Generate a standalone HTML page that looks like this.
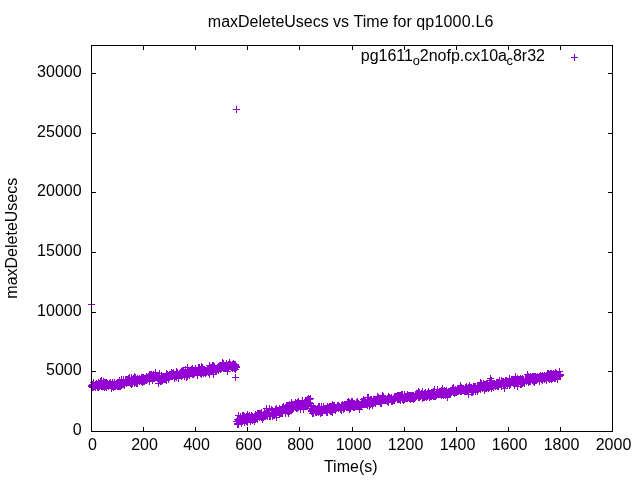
<!DOCTYPE html>
<html><head><meta charset="utf-8"><title>maxDeleteUsecs vs Time for qp1000.L6</title>
<style>
html,body{margin:0;padding:0;background:#fff;}
svg{display:block;}
text{font-family:"Liberation Sans",Arial,sans-serif;font-size:16px;fill:#000;}
</style></head><body>
<svg width="640" height="480" viewBox="0 0 640 480">
<rect width="640" height="480" fill="#fff"/>
<text y="26.7"><tspan x="207.8">maxDeleteUsecs </tspan><tspan x="333">vs </tspan><tspan x="353.6">Time </tspan><tspan x="393.1">for </tspan><tspan x="416.2" letter-spacing="0.2">qp1000.L6</tspan></text>
<text x="350.75" y="471.8" text-anchor="middle">Time(s)</text>
<text transform="translate(16.9,238.2) rotate(-90)" text-anchor="middle">maxDeleteUsecs</text>
<text x="92.5" y="450.15" text-anchor="middle">0</text><text x="144.5" y="450.15" text-anchor="middle">200</text><text x="196.5" y="450.15" text-anchor="middle">400</text><text x="248.5" y="450.15" text-anchor="middle">600</text><text x="300.5" y="450.15" text-anchor="middle">800</text><text x="353.5" y="450.15" text-anchor="middle">1000</text><text x="405.5" y="450.15" text-anchor="middle">1200</text><text x="457.5" y="450.15" text-anchor="middle">1400</text><text x="509.5" y="450.15" text-anchor="middle">1600</text><text x="561.5" y="450.15" text-anchor="middle">1800</text><text x="613.5" y="450.15" text-anchor="middle">2000</text>
<text x="81.6" y="435.25" text-anchor="end">0</text><text x="81.6" y="375.25" text-anchor="end">5000</text><text x="81.6" y="316.25" text-anchor="end">10000</text><text x="81.6" y="256.25" text-anchor="end">15000</text><text x="81.6" y="196.25" text-anchor="end">20000</text><text x="81.6" y="137.25" text-anchor="end">25000</text><text x="81.6" y="77.25" text-anchor="end">30000</text>
<text y="61"><tspan x="360.75">pg1611</tspan><tspan x="412.7" dy="3.8" font-size="12.8px">o</tspan><tspan x="419.75" dy="-3.8">2nofp.cx10a</tspan><tspan x="506.58" dy="3.8" font-size="12.8px">c</tspan><tspan x="512.98" dy="-3.8">8r32</tspan></text>
<path d="M88 304.5h7M91.5 301v7M88 385.5h7M91.5 382v7M88 386.5h7M91.5 383v7M89 384.5h7M92.5 381v7M89 385.5h7M92.5 382v7M89 386.5h7M92.5 383v7M89 387.5h7M92.5 384v7M90 382.5h7M93.5 379v7M90 387.5h7M93.5 384v7M91 385.5h7M94.5 382v7M91 386.5h7M94.5 383v7M92 384.5h7M95.5 381v7M92 385.5h7M95.5 382v7M92 386.5h7M95.5 383v7M92 387.5h7M95.5 384v7M93 383.5h7M96.5 380v7M93 384.5h7M96.5 381v7M93 385.5h7M96.5 382v7M94 385.5h7M97.5 382v7M94 387.5h7M97.5 384v7M95 382.5h7M98.5 379v7M95 383.5h7M98.5 380v7M95 386.5h7M98.5 383v7M95 387.5h7M98.5 384v7M96 383.5h7M99.5 380v7M96 384.5h7M99.5 381v7M96 385.5h7M99.5 382v7M96 386.5h7M99.5 383v7M97 381.5h7M100.5 378v7M97 382.5h7M100.5 379v7M97 384.5h7M100.5 381v7M97 385.5h7M100.5 382v7M98 380.5h7M101.5 377v7M98 382.5h7M101.5 379v7M98 385.5h7M101.5 382v7M98 386.5h7M101.5 383v7M99 385.5h7M102.5 382v7M99 386.5h7M102.5 383v7M100 381.5h7M103.5 378v7M100 385.5h7M103.5 382v7M100 386.5h7M103.5 383v7M101 382.5h7M104.5 379v7M101 385.5h7M104.5 382v7M101 387.5h7M104.5 384v7M102 382.5h7M105.5 379v7M102 383.5h7M105.5 380v7M102 386.5h7M105.5 383v7M103 382.5h7M106.5 379v7M103 384.5h7M106.5 381v7M103 387.5h7M106.5 384v7M104 383.5h7M107.5 380v7M104 384.5h7M107.5 381v7M104 385.5h7M107.5 382v7M105 384.5h7M108.5 381v7M105 385.5h7M108.5 382v7M105 386.5h7M108.5 383v7M106 383.5h7M109.5 380v7M106 384.5h7M109.5 381v7M106 385.5h7M109.5 382v7M107 382.5h7M110.5 379v7M107 383.5h7M110.5 380v7M107 385.5h7M110.5 382v7M108 384.5h7M111.5 381v7M108 385.5h7M111.5 382v7M108 388.5h7M111.5 385v7M109 382.5h7M112.5 379v7M109 384.5h7M112.5 381v7M109 386.5h7M112.5 383v7M110 384.5h7M113.5 381v7M110 385.5h7M113.5 382v7M110 386.5h7M113.5 383v7M110 387.5h7M113.5 384v7M111 382.5h7M114.5 379v7M111 385.5h7M114.5 382v7M111 386.5h7M114.5 383v7M112 384.5h7M115.5 381v7M112 386.5h7M115.5 383v7M113 384.5h7M116.5 381v7M113 385.5h7M116.5 382v7M114 382.5h7M117.5 379v7M114 385.5h7M117.5 382v7M114 386.5h7M117.5 383v7M115 382.5h7M118.5 379v7M115 384.5h7M118.5 381v7M115 386.5h7M118.5 383v7M116 380.5h7M119.5 377v7M116 384.5h7M119.5 381v7M116 386.5h7M119.5 383v7M117 382.5h7M120.5 379v7M117 385.5h7M120.5 382v7M117 386.5h7M120.5 383v7M118 379.5h7M121.5 376v7M118 382.5h7M121.5 379v7M118 384.5h7M121.5 381v7M118 385.5h7M121.5 382v7M119 382.5h7M122.5 379v7M119 383.5h7M122.5 380v7M119 384.5h7M122.5 381v7M120 379.5h7M123.5 376v7M120 381.5h7M123.5 378v7M120 384.5h7M123.5 381v7M121 382.5h7M124.5 379v7M121 384.5h7M124.5 381v7M121 385.5h7M124.5 382v7M122 379.5h7M125.5 376v7M122 380.5h7M125.5 377v7M122 381.5h7M125.5 378v7M122 382.5h7M125.5 379v7M123 379.5h7M126.5 376v7M123 381.5h7M126.5 378v7M123 382.5h7M126.5 379v7M123 383.5h7M126.5 380v7M124 379.5h7M127.5 376v7M124 380.5h7M127.5 377v7M125 378.5h7M128.5 375v7M125 380.5h7M128.5 377v7M125 382.5h7M128.5 379v7M126 377.5h7M129.5 374v7M126 379.5h7M129.5 376v7M126 382.5h7M129.5 379v7M127 382.5h7M130.5 379v7M127 383.5h7M130.5 380v7M128 377.5h7M131.5 374v7M128 379.5h7M131.5 376v7M128 382.5h7M131.5 379v7M128 384.5h7M131.5 381v7M129 381.5h7M132.5 378v7M129 382.5h7M132.5 379v7M129 383.5h7M132.5 380v7M130 378.5h7M133.5 375v7M130 379.5h7M133.5 376v7M130 380.5h7M133.5 377v7M131 376.5h7M134.5 373v7M131 381.5h7M134.5 378v7M131 383.5h7M134.5 380v7M132 377.5h7M135.5 374v7M132 381.5h7M135.5 378v7M132 382.5h7M135.5 379v7M133 380.5h7M136.5 377v7M133 383.5h7M136.5 380v7M134 378.5h7M137.5 375v7M134 381.5h7M137.5 378v7M134 382.5h7M137.5 379v7M134 383.5h7M137.5 380v7M135 379.5h7M138.5 376v7M135 380.5h7M138.5 377v7M136 378.5h7M139.5 375v7M136 379.5h7M139.5 376v7M136 380.5h7M139.5 377v7M136 381.5h7M139.5 378v7M137 379.5h7M140.5 376v7M137 380.5h7M140.5 377v7M138 377.5h7M141.5 374v7M138 380.5h7M141.5 377v7M138 381.5h7M141.5 378v7M139 377.5h7M142.5 374v7M139 380.5h7M142.5 377v7M139 382.5h7M142.5 379v7M140 377.5h7M143.5 374v7M140 380.5h7M143.5 377v7M140 381.5h7M143.5 378v7M141 378.5h7M144.5 375v7M141 380.5h7M144.5 377v7M141 381.5h7M144.5 378v7M142 378.5h7M145.5 375v7M142 379.5h7M145.5 376v7M142 380.5h7M145.5 377v7M143 376.5h7M146.5 373v7M143 377.5h7M146.5 374v7M143 378.5h7M146.5 375v7M143 380.5h7M146.5 377v7M144 378.5h7M147.5 375v7M144 379.5h7M147.5 376v7M145 376.5h7M148.5 373v7M145 377.5h7M148.5 374v7M145 378.5h7M148.5 375v7M146 374.5h7M149.5 371v7M146 378.5h7M149.5 375v7M146 379.5h7M149.5 376v7M146 381.5h7M149.5 378v7M147 374.5h7M150.5 371v7M147 377.5h7M150.5 374v7M147 378.5h7M150.5 375v7M148 374.5h7M151.5 371v7M148 375.5h7M151.5 372v7M148 377.5h7M151.5 374v7M149 375.5h7M152.5 372v7M149 378.5h7M152.5 375v7M149 379.5h7M152.5 376v7M149 380.5h7M152.5 377v7M150 374.5h7M153.5 371v7M150 378.5h7M153.5 375v7M151 376.5h7M154.5 373v7M151 377.5h7M154.5 374v7M151 378.5h7M154.5 375v7M152 372.5h7M155.5 369v7M152 374.5h7M155.5 371v7M152 377.5h7M155.5 374v7M153 375.5h7M156.5 372v7M153 376.5h7M156.5 373v7M153 377.5h7M156.5 374v7M154 376.5h7M157.5 373v7M154 377.5h7M157.5 374v7M154 378.5h7M157.5 375v7M155 376.5h7M158.5 373v7M155 377.5h7M158.5 374v7M155 383.5h7M158.5 380v7M156 373.5h7M159.5 370v7M156 378.5h7M159.5 375v7M156 379.5h7M159.5 376v7M157 378.5h7M160.5 375v7M157 379.5h7M160.5 376v7M157 381.5h7M160.5 378v7M158 375.5h7M161.5 372v7M158 377.5h7M161.5 374v7M158 379.5h7M161.5 376v7M158 381.5h7M161.5 378v7M159 377.5h7M162.5 374v7M159 378.5h7M162.5 375v7M159 380.5h7M162.5 377v7M160 376.5h7M163.5 373v7M160 377.5h7M163.5 374v7M160 379.5h7M163.5 376v7M161 376.5h7M164.5 373v7M161 378.5h7M164.5 375v7M161 379.5h7M164.5 376v7M162 377.5h7M165.5 374v7M162 378.5h7M165.5 375v7M162 379.5h7M165.5 376v7M163 373.5h7M166.5 370v7M163 374.5h7M166.5 371v7M163 380.5h7M166.5 377v7M164 374.5h7M167.5 371v7M164 376.5h7M167.5 373v7M165 375.5h7M168.5 372v7M165 377.5h7M168.5 374v7M165 379.5h7M168.5 376v7M166 374.5h7M169.5 371v7M166 375.5h7M169.5 372v7M166 376.5h7M169.5 373v7M167 374.5h7M170.5 371v7M167 375.5h7M170.5 372v7M167 376.5h7M170.5 373v7M168 372.5h7M171.5 369v7M168 373.5h7M171.5 370v7M168 375.5h7M171.5 372v7M168 376.5h7M171.5 373v7M169 373.5h7M172.5 370v7M169 376.5h7M172.5 373v7M170 372.5h7M173.5 369v7M170 374.5h7M173.5 371v7M170 375.5h7M173.5 372v7M171 374.5h7M174.5 371v7M171 376.5h7M174.5 373v7M171 377.5h7M174.5 374v7M171 378.5h7M174.5 375v7M172 374.5h7M175.5 371v7M172 375.5h7M175.5 372v7M172 376.5h7M175.5 373v7M173 371.5h7M176.5 368v7M173 375.5h7M176.5 372v7M173 377.5h7M176.5 374v7M174 372.5h7M177.5 369v7M174 373.5h7M177.5 370v7M174 374.5h7M177.5 371v7M174 375.5h7M177.5 372v7M175 375.5h7M178.5 372v7M175 378.5h7M178.5 375v7M176 373.5h7M179.5 370v7M176 374.5h7M179.5 371v7M176 375.5h7M179.5 372v7M177 372.5h7M180.5 369v7M177 373.5h7M180.5 370v7M177 375.5h7M180.5 372v7M178 371.5h7M181.5 368v7M178 373.5h7M181.5 370v7M178 376.5h7M181.5 373v7M179 370.5h7M182.5 367v7M179 371.5h7M182.5 368v7M179 372.5h7M182.5 369v7M179 375.5h7M182.5 372v7M180 370.5h7M183.5 367v7M180 373.5h7M183.5 370v7M180 374.5h7M183.5 371v7M181 372.5h7M184.5 369v7M181 373.5h7M184.5 370v7M181 376.5h7M184.5 373v7M182 369.5h7M185.5 366v7M182 370.5h7M185.5 367v7M182 373.5h7M185.5 370v7M182 374.5h7M185.5 371v7M183 372.5h7M186.5 369v7M183 373.5h7M186.5 370v7M183 374.5h7M186.5 371v7M183 377.5h7M186.5 374v7M184 367.5h7M187.5 364v7M184 371.5h7M187.5 368v7M184 374.5h7M187.5 371v7M184 376.5h7M187.5 373v7M185 371.5h7M188.5 368v7M185 372.5h7M188.5 369v7M185 373.5h7M188.5 370v7M186 370.5h7M189.5 367v7M186 372.5h7M189.5 369v7M186 374.5h7M189.5 371v7M186 375.5h7M189.5 372v7M187 372.5h7M190.5 369v7M187 373.5h7M190.5 370v7M188 369.5h7M191.5 366v7M188 372.5h7M191.5 369v7M188 373.5h7M191.5 370v7M189 368.5h7M192.5 365v7M189 371.5h7M192.5 368v7M189 372.5h7M192.5 369v7M189 374.5h7M192.5 371v7M190 370.5h7M193.5 367v7M190 371.5h7M193.5 368v7M190 373.5h7M193.5 370v7M190 374.5h7M193.5 371v7M191 370.5h7M194.5 367v7M191 372.5h7M194.5 369v7M191 373.5h7M194.5 370v7M192 368.5h7M195.5 365v7M192 371.5h7M195.5 368v7M192 372.5h7M195.5 369v7M193 370.5h7M196.5 367v7M193 372.5h7M196.5 369v7M194 371.5h7M197.5 368v7M194 373.5h7M197.5 370v7M194 374.5h7M197.5 371v7M194 375.5h7M197.5 372v7M195 367.5h7M198.5 364v7M195 371.5h7M198.5 368v7M195 372.5h7M198.5 369v7M196 367.5h7M199.5 364v7M196 371.5h7M199.5 368v7M196 372.5h7M199.5 369v7M197 369.5h7M200.5 366v7M197 370.5h7M200.5 367v7M197 373.5h7M200.5 370v7M198 366.5h7M201.5 363v7M198 371.5h7M201.5 368v7M198 373.5h7M201.5 370v7M198 374.5h7M201.5 371v7M199 367.5h7M202.5 364v7M199 368.5h7M202.5 365v7M199 371.5h7M202.5 368v7M199 372.5h7M202.5 369v7M200 370.5h7M203.5 367v7M200 371.5h7M203.5 368v7M200 373.5h7M203.5 370v7M201 369.5h7M204.5 366v7M201 370.5h7M204.5 367v7M201 371.5h7M204.5 368v7M201 372.5h7M204.5 369v7M202 370.5h7M205.5 367v7M202 371.5h7M205.5 368v7M202 372.5h7M205.5 369v7M202 373.5h7M205.5 370v7M203 370.5h7M206.5 367v7M203 371.5h7M206.5 368v7M203 372.5h7M206.5 369v7M204 369.5h7M207.5 366v7M204 370.5h7M207.5 367v7M204 371.5h7M207.5 368v7M205 369.5h7M208.5 366v7M205 371.5h7M208.5 368v7M205 372.5h7M208.5 369v7M206 365.5h7M209.5 362v7M206 370.5h7M209.5 367v7M206 374.5h7M209.5 371v7M207 367.5h7M210.5 364v7M207 368.5h7M210.5 365v7M207 369.5h7M210.5 366v7M207 371.5h7M210.5 368v7M208 367.5h7M211.5 364v7M208 368.5h7M211.5 365v7M208 370.5h7M211.5 367v7M209 365.5h7M212.5 362v7M209 369.5h7M212.5 366v7M209 371.5h7M212.5 368v7M210 365.5h7M213.5 362v7M210 367.5h7M213.5 364v7M210 371.5h7M213.5 368v7M210 374.5h7M213.5 371v7M211 366.5h7M214.5 363v7M211 368.5h7M214.5 365v7M211 369.5h7M214.5 366v7M212 369.5h7M215.5 366v7M212 370.5h7M215.5 367v7M212 371.5h7M215.5 368v7M213 369.5h7M216.5 366v7M213 371.5h7M216.5 368v7M214 367.5h7M217.5 364v7M214 369.5h7M217.5 366v7M215 366.5h7M218.5 363v7M215 368.5h7M218.5 365v7M215 369.5h7M218.5 366v7M215 370.5h7M218.5 367v7M216 365.5h7M219.5 362v7M216 367.5h7M219.5 364v7M216 368.5h7M219.5 365v7M217 367.5h7M220.5 364v7M217 368.5h7M220.5 365v7M217 369.5h7M220.5 366v7M218 367.5h7M221.5 364v7M218 368.5h7M221.5 365v7M219 362.5h7M222.5 359v7M219 364.5h7M222.5 361v7M219 367.5h7M222.5 364v7M220 363.5h7M223.5 360v7M220 367.5h7M223.5 364v7M220 368.5h7M223.5 365v7M221 366.5h7M224.5 363v7M221 367.5h7M224.5 364v7M222 365.5h7M225.5 362v7M222 367.5h7M225.5 364v7M222 368.5h7M225.5 365v7M223 363.5h7M226.5 360v7M223 368.5h7M226.5 365v7M224 365.5h7M227.5 362v7M224 369.5h7M227.5 366v7M224 371.5h7M227.5 368v7M225 364.5h7M228.5 361v7M225 365.5h7M228.5 362v7M225 366.5h7M228.5 363v7M225 368.5h7M228.5 365v7M226 362.5h7M229.5 359v7M226 363.5h7M229.5 360v7M226 365.5h7M229.5 362v7M226 366.5h7M229.5 363v7M227 364.5h7M230.5 361v7M227 366.5h7M230.5 363v7M228 366.5h7M231.5 363v7M228 367.5h7M231.5 364v7M229 364.5h7M232.5 361v7M229 366.5h7M232.5 363v7M229 368.5h7M232.5 365v7M230 363.5h7M233.5 360v7M230 365.5h7M233.5 362v7M230 366.5h7M233.5 363v7M230 367.5h7M233.5 364v7M231 364.5h7M234.5 361v7M231 365.5h7M234.5 362v7M231 368.5h7M234.5 365v7M232 364.5h7M235.5 361v7M232 365.5h7M235.5 362v7M232 369.5h7M235.5 366v7M232 377.5h7M235.5 374v7M233 109.5h7M236.5 106v7M233 366.5h7M236.5 363v7M233 367.5h7M236.5 364v7M233 421.5h7M236.5 418v7M234 419.5h7M237.5 416v7M234 421.5h7M237.5 418v7M234 423.5h7M237.5 420v7M234 424.5h7M237.5 421v7M235 415.5h7M238.5 412v7M235 420.5h7M238.5 417v7M235 421.5h7M238.5 418v7M235 424.5h7M238.5 421v7M236 418.5h7M239.5 415v7M236 419.5h7M239.5 416v7M236 420.5h7M239.5 417v7M236 421.5h7M239.5 418v7M237 416.5h7M240.5 413v7M237 418.5h7M240.5 415v7M237 419.5h7M240.5 416v7M238 419.5h7M241.5 416v7M238 420.5h7M241.5 417v7M238 423.5h7M241.5 420v7M239 415.5h7M242.5 412v7M239 418.5h7M242.5 415v7M239 419.5h7M242.5 416v7M239 421.5h7M242.5 418v7M240 415.5h7M243.5 412v7M240 417.5h7M243.5 414v7M240 420.5h7M243.5 417v7M241 416.5h7M244.5 413v7M241 420.5h7M244.5 417v7M241 422.5h7M244.5 419v7M242 418.5h7M245.5 415v7M242 419.5h7M245.5 416v7M242 420.5h7M245.5 417v7M243 416.5h7M246.5 413v7M243 418.5h7M246.5 415v7M243 421.5h7M246.5 418v7M244 414.5h7M247.5 411v7M244 420.5h7M247.5 417v7M244 422.5h7M247.5 419v7M245 416.5h7M248.5 413v7M245 418.5h7M248.5 415v7M245 419.5h7M248.5 416v7M246 415.5h7M249.5 412v7M246 417.5h7M249.5 414v7M246 418.5h7M249.5 415v7M246 419.5h7M249.5 416v7M247 417.5h7M250.5 414v7M247 420.5h7M250.5 417v7M247 421.5h7M250.5 418v7M248 415.5h7M251.5 412v7M248 417.5h7M251.5 414v7M248 418.5h7M251.5 415v7M248 419.5h7M251.5 416v7M249 416.5h7M252.5 413v7M249 418.5h7M252.5 415v7M249 420.5h7M252.5 417v7M250 417.5h7M253.5 414v7M250 418.5h7M253.5 415v7M250 419.5h7M253.5 416v7M251 416.5h7M254.5 413v7M251 418.5h7M254.5 415v7M251 419.5h7M254.5 416v7M251 421.5h7M254.5 418v7M252 414.5h7M255.5 411v7M252 416.5h7M255.5 413v7M252 418.5h7M255.5 415v7M252 419.5h7M255.5 416v7M253 415.5h7M256.5 412v7M253 416.5h7M256.5 413v7M253 417.5h7M256.5 414v7M254 413.5h7M257.5 410v7M254 416.5h7M257.5 413v7M254 417.5h7M257.5 414v7M254 419.5h7M257.5 416v7M255 413.5h7M258.5 410v7M255 415.5h7M258.5 412v7M256 413.5h7M259.5 410v7M256 414.5h7M259.5 411v7M256 416.5h7M259.5 413v7M256 417.5h7M259.5 414v7M257 413.5h7M260.5 410v7M257 414.5h7M260.5 411v7M257 416.5h7M260.5 413v7M258 412.5h7M261.5 409v7M258 414.5h7M261.5 411v7M258 415.5h7M261.5 412v7M258 417.5h7M261.5 414v7M259 416.5h7M262.5 413v7M259 418.5h7M262.5 415v7M259 419.5h7M262.5 416v7M260 414.5h7M263.5 411v7M260 416.5h7M263.5 413v7M260 417.5h7M263.5 414v7M261 412.5h7M264.5 409v7M261 414.5h7M264.5 411v7M261 415.5h7M264.5 412v7M261 416.5h7M264.5 413v7M262 413.5h7M265.5 410v7M262 416.5h7M265.5 413v7M263 408.5h7M266.5 405v7M263 411.5h7M266.5 408v7M263 413.5h7M266.5 410v7M263 415.5h7M266.5 412v7M264 412.5h7M267.5 409v7M264 413.5h7M267.5 410v7M264 415.5h7M267.5 412v7M264 416.5h7M267.5 413v7M265 412.5h7M268.5 409v7M265 413.5h7M268.5 410v7M266 408.5h7M269.5 405v7M266 414.5h7M269.5 411v7M266 415.5h7M269.5 412v7M266 416.5h7M269.5 413v7M267 415.5h7M270.5 412v7M267 416.5h7M270.5 413v7M268 409.5h7M271.5 406v7M268 410.5h7M271.5 407v7M268 413.5h7M271.5 410v7M269 410.5h7M272.5 407v7M269 412.5h7M272.5 409v7M269 415.5h7M272.5 412v7M269 416.5h7M272.5 413v7M270 412.5h7M273.5 409v7M270 413.5h7M273.5 410v7M270 415.5h7M273.5 412v7M271 411.5h7M274.5 408v7M271 414.5h7M274.5 411v7M271 415.5h7M274.5 412v7M272 409.5h7M275.5 406v7M272 413.5h7M275.5 410v7M273 408.5h7M276.5 405v7M273 411.5h7M276.5 408v7M273 413.5h7M276.5 410v7M273 417.5h7M276.5 414v7M274 410.5h7M277.5 407v7M274 411.5h7M277.5 408v7M274 412.5h7M277.5 409v7M275 410.5h7M278.5 407v7M275 411.5h7M278.5 408v7M275 412.5h7M278.5 409v7M276 408.5h7M279.5 405v7M276 409.5h7M279.5 406v7M276 412.5h7M279.5 409v7M276 414.5h7M279.5 411v7M277 409.5h7M280.5 406v7M277 410.5h7M280.5 407v7M277 413.5h7M280.5 410v7M278 409.5h7M281.5 406v7M278 410.5h7M281.5 407v7M278 413.5h7M281.5 410v7M279 407.5h7M282.5 404v7M279 408.5h7M282.5 405v7M279 413.5h7M282.5 410v7M280 406.5h7M283.5 403v7M280 410.5h7M283.5 407v7M281 408.5h7M284.5 405v7M281 409.5h7M284.5 406v7M282 407.5h7M285.5 404v7M282 409.5h7M285.5 406v7M282 413.5h7M285.5 410v7M283 405.5h7M286.5 402v7M283 407.5h7M286.5 404v7M283 409.5h7M286.5 406v7M284 405.5h7M287.5 402v7M284 408.5h7M287.5 405v7M284 409.5h7M287.5 406v7M284 411.5h7M287.5 408v7M285 406.5h7M288.5 403v7M285 408.5h7M288.5 405v7M285 413.5h7M288.5 410v7M286 404.5h7M289.5 401v7M286 407.5h7M289.5 404v7M286 411.5h7M289.5 408v7M287 405.5h7M290.5 402v7M287 406.5h7M290.5 403v7M287 408.5h7M290.5 405v7M287 409.5h7M290.5 406v7M288 402.5h7M291.5 399v7M288 406.5h7M291.5 403v7M288 407.5h7M291.5 404v7M288 409.5h7M291.5 406v7M289 404.5h7M292.5 401v7M289 405.5h7M292.5 402v7M289 409.5h7M292.5 406v7M290 404.5h7M293.5 401v7M290 405.5h7M293.5 402v7M290 407.5h7M293.5 404v7M290 408.5h7M293.5 405v7M291 404.5h7M294.5 401v7M291 405.5h7M294.5 402v7M291 406.5h7M294.5 403v7M292 402.5h7M295.5 399v7M292 405.5h7M295.5 402v7M292 406.5h7M295.5 403v7M292 407.5h7M295.5 404v7M293 403.5h7M296.5 400v7M293 405.5h7M296.5 402v7M293 408.5h7M296.5 405v7M294 402.5h7M297.5 399v7M294 403.5h7M297.5 400v7M294 407.5h7M297.5 404v7M294 408.5h7M297.5 405v7M295 401.5h7M298.5 398v7M295 404.5h7M298.5 401v7M295 406.5h7M298.5 403v7M295 407.5h7M298.5 404v7M296 403.5h7M299.5 400v7M296 404.5h7M299.5 401v7M296 405.5h7M299.5 402v7M296 406.5h7M299.5 403v7M297 405.5h7M300.5 402v7M297 408.5h7M300.5 405v7M297 409.5h7M300.5 406v7M298 403.5h7M301.5 400v7M298 404.5h7M301.5 401v7M298 405.5h7M301.5 402v7M299 400.5h7M302.5 397v7M299 402.5h7M302.5 399v7M300 404.5h7M303.5 401v7M300 407.5h7M303.5 404v7M300 409.5h7M303.5 406v7M301 402.5h7M304.5 399v7M301 403.5h7M304.5 400v7M301 406.5h7M304.5 403v7M302 400.5h7M305.5 397v7M302 401.5h7M305.5 398v7M302 404.5h7M305.5 401v7M302 405.5h7M305.5 402v7M303 400.5h7M306.5 397v7M303 401.5h7M306.5 398v7M303 402.5h7M306.5 399v7M303 405.5h7M306.5 402v7M304 399.5h7M307.5 396v7M304 401.5h7M307.5 398v7M304 402.5h7M307.5 399v7M304 406.5h7M307.5 403v7M305 398.5h7M308.5 395v7M305 399.5h7M308.5 396v7M305 404.5h7M308.5 401v7M306 399.5h7M309.5 396v7M306 402.5h7M309.5 399v7M306 403.5h7M309.5 400v7M307 398.5h7M310.5 395v7M307 403.5h7M310.5 400v7M308 408.5h7M311.5 405v7M308 410.5h7M311.5 407v7M308 411.5h7M311.5 408v7M309 408.5h7M312.5 405v7M309 409.5h7M312.5 406v7M309 410.5h7M312.5 407v7M309 413.5h7M312.5 410v7M310 407.5h7M313.5 404v7M310 412.5h7M313.5 409v7M310 413.5h7M313.5 410v7M311 408.5h7M314.5 405v7M311 410.5h7M314.5 407v7M312 408.5h7M315.5 405v7M312 411.5h7M315.5 408v7M312 412.5h7M315.5 409v7M313 409.5h7M316.5 406v7M313 410.5h7M316.5 407v7M313 412.5h7M316.5 409v7M314 408.5h7M317.5 405v7M314 409.5h7M317.5 406v7M314 410.5h7M317.5 407v7M314 411.5h7M317.5 408v7M315 406.5h7M318.5 403v7M315 408.5h7M318.5 405v7M315 410.5h7M318.5 407v7M315 412.5h7M318.5 409v7M316 406.5h7M319.5 403v7M316 408.5h7M319.5 405v7M316 410.5h7M319.5 407v7M316 411.5h7M319.5 408v7M317 409.5h7M320.5 406v7M317 410.5h7M320.5 407v7M317 413.5h7M320.5 410v7M318 406.5h7M321.5 403v7M318 407.5h7M321.5 404v7M318 408.5h7M321.5 405v7M318 412.5h7M321.5 409v7M319 409.5h7M322.5 406v7M319 410.5h7M322.5 407v7M319 412.5h7M322.5 409v7M320 406.5h7M323.5 403v7M320 407.5h7M323.5 404v7M320 410.5h7M323.5 407v7M321 408.5h7M324.5 405v7M321 409.5h7M324.5 406v7M321 410.5h7M324.5 407v7M322 408.5h7M325.5 405v7M322 409.5h7M325.5 406v7M322 410.5h7M325.5 407v7M323 408.5h7M326.5 405v7M323 409.5h7M326.5 406v7M323 411.5h7M326.5 408v7M323 412.5h7M326.5 409v7M324 406.5h7M327.5 403v7M324 411.5h7M327.5 408v7M324 412.5h7M327.5 409v7M325 407.5h7M328.5 404v7M325 408.5h7M328.5 405v7M325 409.5h7M328.5 406v7M326 406.5h7M329.5 403v7M326 408.5h7M329.5 405v7M326 410.5h7M329.5 407v7M327 406.5h7M330.5 403v7M327 407.5h7M330.5 404v7M327 409.5h7M330.5 406v7M327 411.5h7M330.5 408v7M328 406.5h7M331.5 403v7M328 408.5h7M331.5 405v7M328 409.5h7M331.5 406v7M328 411.5h7M331.5 408v7M329 404.5h7M332.5 401v7M329 408.5h7M332.5 405v7M329 409.5h7M332.5 406v7M329 412.5h7M332.5 409v7M330 405.5h7M333.5 402v7M330 407.5h7M333.5 404v7M330 408.5h7M333.5 405v7M331 405.5h7M334.5 402v7M331 408.5h7M334.5 405v7M332 407.5h7M335.5 404v7M332 408.5h7M335.5 405v7M332 410.5h7M335.5 407v7M333 407.5h7M336.5 404v7M333 408.5h7M336.5 405v7M334 405.5h7M337.5 402v7M334 407.5h7M337.5 404v7M335 405.5h7M338.5 402v7M335 406.5h7M338.5 403v7M335 407.5h7M338.5 404v7M335 408.5h7M338.5 405v7M336 406.5h7M339.5 403v7M336 407.5h7M339.5 404v7M337 407.5h7M340.5 404v7M337 408.5h7M340.5 405v7M337 409.5h7M340.5 406v7M338 405.5h7M341.5 402v7M338 408.5h7M341.5 405v7M338 409.5h7M341.5 406v7M338 410.5h7M341.5 407v7M339 404.5h7M342.5 401v7M339 406.5h7M342.5 403v7M339 407.5h7M342.5 404v7M340 405.5h7M343.5 402v7M340 406.5h7M343.5 403v7M340 409.5h7M343.5 406v7M341 404.5h7M344.5 401v7M341 405.5h7M344.5 402v7M341 408.5h7M344.5 405v7M342 404.5h7M345.5 401v7M342 405.5h7M345.5 402v7M342 406.5h7M345.5 403v7M343 406.5h7M346.5 403v7M343 407.5h7M346.5 404v7M344 402.5h7M347.5 399v7M344 404.5h7M347.5 401v7M344 406.5h7M347.5 403v7M344 407.5h7M347.5 404v7M345 401.5h7M348.5 398v7M345 404.5h7M348.5 401v7M345 407.5h7M348.5 404v7M346 402.5h7M349.5 399v7M346 404.5h7M349.5 401v7M346 409.5h7M349.5 406v7M347 403.5h7M350.5 400v7M347 404.5h7M350.5 401v7M347 406.5h7M350.5 403v7M347 408.5h7M350.5 405v7M348 401.5h7M351.5 398v7M348 404.5h7M351.5 401v7M348 406.5h7M351.5 403v7M349 401.5h7M352.5 398v7M349 404.5h7M352.5 401v7M350 403.5h7M353.5 400v7M350 404.5h7M353.5 401v7M350 407.5h7M353.5 404v7M351 403.5h7M354.5 400v7M351 404.5h7M354.5 401v7M351 407.5h7M354.5 404v7M352 404.5h7M355.5 401v7M352 405.5h7M355.5 402v7M352 406.5h7M355.5 403v7M353 402.5h7M356.5 399v7M353 403.5h7M356.5 400v7M353 405.5h7M356.5 402v7M354 401.5h7M357.5 398v7M354 404.5h7M357.5 401v7M354 405.5h7M357.5 402v7M354 406.5h7M357.5 403v7M355 403.5h7M358.5 400v7M355 405.5h7M358.5 402v7M356 404.5h7M359.5 401v7M356 405.5h7M359.5 402v7M356 409.5h7M359.5 406v7M357 404.5h7M360.5 401v7M357 405.5h7M360.5 402v7M358 401.5h7M361.5 398v7M358 403.5h7M361.5 400v7M358 405.5h7M361.5 402v7M359 401.5h7M362.5 398v7M359 403.5h7M362.5 400v7M359 404.5h7M362.5 401v7M360 399.5h7M363.5 396v7M360 403.5h7M363.5 400v7M360 404.5h7M363.5 401v7M361 400.5h7M364.5 397v7M361 401.5h7M364.5 398v7M361 404.5h7M364.5 401v7M362 400.5h7M365.5 397v7M362 401.5h7M365.5 398v7M362 404.5h7M365.5 401v7M363 402.5h7M366.5 399v7M363 403.5h7M366.5 400v7M363 404.5h7M366.5 401v7M364 397.5h7M367.5 394v7M364 400.5h7M367.5 397v7M364 404.5h7M367.5 401v7M364 405.5h7M367.5 402v7M365 397.5h7M368.5 394v7M365 401.5h7M368.5 398v7M365 402.5h7M368.5 399v7M366 400.5h7M369.5 397v7M366 401.5h7M369.5 398v7M366 402.5h7M369.5 399v7M366 406.5h7M369.5 403v7M367 399.5h7M370.5 396v7M367 403.5h7M370.5 400v7M367 404.5h7M370.5 401v7M368 399.5h7M371.5 396v7M368 400.5h7M371.5 397v7M368 403.5h7M371.5 400v7M369 401.5h7M372.5 398v7M369 404.5h7M372.5 401v7M369 405.5h7M372.5 402v7M370 399.5h7M373.5 396v7M370 400.5h7M373.5 397v7M370 403.5h7M373.5 400v7M371 399.5h7M374.5 396v7M371 400.5h7M374.5 397v7M371 401.5h7M374.5 398v7M372 400.5h7M375.5 397v7M372 401.5h7M375.5 398v7M372 402.5h7M375.5 399v7M372 403.5h7M375.5 400v7M373 399.5h7M376.5 396v7M373 401.5h7M376.5 398v7M374 396.5h7M377.5 393v7M374 399.5h7M377.5 396v7M374 401.5h7M377.5 398v7M375 397.5h7M378.5 394v7M375 398.5h7M378.5 395v7M375 401.5h7M378.5 398v7M376 399.5h7M379.5 396v7M376 400.5h7M379.5 397v7M376 401.5h7M379.5 398v7M377 399.5h7M380.5 396v7M377 401.5h7M380.5 398v7M377 403.5h7M380.5 400v7M378 398.5h7M381.5 395v7M378 401.5h7M381.5 398v7M378 403.5h7M381.5 400v7M379 395.5h7M382.5 392v7M379 398.5h7M382.5 395v7M379 400.5h7M382.5 397v7M380 396.5h7M383.5 393v7M380 398.5h7M383.5 395v7M380 399.5h7M383.5 396v7M381 398.5h7M384.5 395v7M381 399.5h7M384.5 396v7M381 400.5h7M384.5 397v7M382 398.5h7M385.5 395v7M382 399.5h7M385.5 396v7M382 400.5h7M385.5 397v7M383 399.5h7M386.5 396v7M383 400.5h7M386.5 397v7M384 398.5h7M387.5 395v7M384 399.5h7M387.5 396v7M384 401.5h7M387.5 398v7M385 396.5h7M388.5 393v7M385 397.5h7M388.5 394v7M385 398.5h7M388.5 395v7M385 402.5h7M388.5 399v7M386 397.5h7M389.5 394v7M386 398.5h7M389.5 395v7M386 399.5h7M389.5 396v7M387 398.5h7M390.5 395v7M387 399.5h7M390.5 396v7M388 397.5h7M391.5 394v7M388 398.5h7M391.5 395v7M388 401.5h7M391.5 398v7M389 400.5h7M392.5 397v7M389 401.5h7M392.5 398v7M390 398.5h7M393.5 395v7M390 399.5h7M393.5 396v7M390 400.5h7M393.5 397v7M391 396.5h7M394.5 393v7M391 399.5h7M394.5 396v7M391 400.5h7M394.5 397v7M392 396.5h7M395.5 393v7M392 397.5h7M395.5 394v7M393 396.5h7M396.5 393v7M393 397.5h7M396.5 394v7M394 395.5h7M397.5 392v7M394 398.5h7M397.5 395v7M394 399.5h7M397.5 396v7M395 395.5h7M398.5 392v7M395 396.5h7M398.5 393v7M395 398.5h7M398.5 395v7M395 399.5h7M398.5 396v7M396 395.5h7M399.5 392v7M396 399.5h7M399.5 396v7M397 395.5h7M400.5 392v7M397 397.5h7M400.5 394v7M397 399.5h7M400.5 396v7M397 400.5h7M400.5 397v7M398 394.5h7M401.5 391v7M398 396.5h7M401.5 393v7M398 397.5h7M401.5 394v7M399 394.5h7M402.5 391v7M399 397.5h7M402.5 394v7M399 399.5h7M402.5 396v7M400 397.5h7M403.5 394v7M400 398.5h7M403.5 395v7M400 400.5h7M403.5 397v7M401 394.5h7M404.5 391v7M401 396.5h7M404.5 393v7M401 399.5h7M404.5 396v7M402 396.5h7M405.5 393v7M402 397.5h7M405.5 394v7M402 398.5h7M405.5 395v7M403 396.5h7M406.5 393v7M403 397.5h7M406.5 394v7M403 398.5h7M406.5 395v7M404 394.5h7M407.5 391v7M404 398.5h7M407.5 395v7M405 395.5h7M408.5 392v7M405 396.5h7M408.5 393v7M405 397.5h7M408.5 394v7M406 395.5h7M409.5 392v7M406 397.5h7M409.5 394v7M406 398.5h7M409.5 395v7M407 395.5h7M410.5 392v7M407 396.5h7M410.5 393v7M407 397.5h7M410.5 394v7M407 399.5h7M410.5 396v7M408 395.5h7M411.5 392v7M408 396.5h7M411.5 393v7M408 398.5h7M411.5 395v7M409 395.5h7M412.5 392v7M409 397.5h7M412.5 394v7M409 398.5h7M412.5 395v7M410 395.5h7M413.5 392v7M410 396.5h7M413.5 393v7M410 397.5h7M413.5 394v7M410 399.5h7M413.5 396v7M411 397.5h7M414.5 394v7M411 398.5h7M414.5 395v7M412 394.5h7M415.5 391v7M412 395.5h7M415.5 392v7M412 396.5h7M415.5 393v7M412 397.5h7M415.5 394v7M413 393.5h7M416.5 390v7M413 395.5h7M416.5 392v7M413 396.5h7M416.5 393v7M414 393.5h7M417.5 390v7M414 394.5h7M417.5 391v7M414 395.5h7M417.5 392v7M415 391.5h7M418.5 388v7M415 394.5h7M418.5 391v7M415 395.5h7M418.5 392v7M415 397.5h7M418.5 394v7M416 392.5h7M419.5 389v7M416 394.5h7M419.5 391v7M416 397.5h7M419.5 394v7M417 394.5h7M420.5 391v7M417 396.5h7M420.5 393v7M418 393.5h7M421.5 390v7M418 394.5h7M421.5 391v7M419 391.5h7M422.5 388v7M419 395.5h7M422.5 392v7M419 396.5h7M422.5 393v7M419 398.5h7M422.5 395v7M420 394.5h7M423.5 391v7M420 397.5h7M423.5 394v7M421 393.5h7M424.5 390v7M421 395.5h7M424.5 392v7M421 396.5h7M424.5 393v7M421 397.5h7M424.5 394v7M422 392.5h7M425.5 389v7M422 395.5h7M425.5 392v7M422 396.5h7M425.5 393v7M423 395.5h7M426.5 392v7M423 396.5h7M426.5 393v7M423 397.5h7M426.5 394v7M424 393.5h7M427.5 390v7M424 394.5h7M427.5 391v7M424 395.5h7M427.5 392v7M424 396.5h7M427.5 393v7M425 391.5h7M428.5 388v7M425 394.5h7M428.5 391v7M425 395.5h7M428.5 392v7M426 393.5h7M429.5 390v7M426 394.5h7M429.5 391v7M426 396.5h7M429.5 393v7M426 397.5h7M429.5 394v7M427 393.5h7M430.5 390v7M427 394.5h7M430.5 391v7M427 396.5h7M430.5 393v7M428 392.5h7M431.5 389v7M428 393.5h7M431.5 390v7M428 394.5h7M431.5 391v7M428 396.5h7M431.5 393v7M429 392.5h7M432.5 389v7M429 395.5h7M432.5 392v7M430 391.5h7M433.5 388v7M430 392.5h7M433.5 389v7M430 393.5h7M433.5 390v7M430 396.5h7M433.5 393v7M431 389.5h7M434.5 386v7M431 393.5h7M434.5 390v7M431 396.5h7M434.5 393v7M432 394.5h7M435.5 391v7M432 395.5h7M435.5 392v7M432 396.5h7M435.5 393v7M433 393.5h7M436.5 390v7M433 394.5h7M436.5 391v7M433 395.5h7M436.5 392v7M434 389.5h7M437.5 386v7M434 392.5h7M437.5 389v7M434 393.5h7M437.5 390v7M434 394.5h7M437.5 391v7M435 393.5h7M438.5 390v7M435 394.5h7M438.5 391v7M436 391.5h7M439.5 388v7M436 392.5h7M439.5 389v7M436 394.5h7M439.5 391v7M437 392.5h7M440.5 389v7M437 394.5h7M440.5 391v7M438 390.5h7M441.5 387v7M438 393.5h7M441.5 390v7M438 395.5h7M441.5 392v7M439 388.5h7M442.5 385v7M439 391.5h7M442.5 388v7M439 392.5h7M442.5 389v7M439 394.5h7M442.5 391v7M440 392.5h7M443.5 389v7M440 393.5h7M443.5 390v7M440 395.5h7M443.5 392v7M441 390.5h7M444.5 387v7M441 391.5h7M444.5 388v7M441 393.5h7M444.5 390v7M441 394.5h7M444.5 391v7M442 391.5h7M445.5 388v7M442 392.5h7M445.5 389v7M442 395.5h7M445.5 392v7M443 390.5h7M446.5 387v7M443 392.5h7M446.5 389v7M444 392.5h7M447.5 389v7M444 393.5h7M447.5 390v7M444 396.5h7M447.5 393v7M444 397.5h7M447.5 394v7M445 391.5h7M448.5 388v7M445 392.5h7M448.5 389v7M446 391.5h7M449.5 388v7M446 393.5h7M449.5 390v7M447 390.5h7M450.5 387v7M447 392.5h7M450.5 389v7M447 393.5h7M450.5 390v7M447 394.5h7M450.5 391v7M448 391.5h7M451.5 388v7M448 392.5h7M451.5 389v7M449 388.5h7M452.5 385v7M449 389.5h7M452.5 386v7M449 390.5h7M452.5 387v7M449 391.5h7M452.5 388v7M450 387.5h7M453.5 384v7M450 388.5h7M453.5 385v7M450 391.5h7M453.5 388v7M450 392.5h7M453.5 389v7M451 390.5h7M454.5 387v7M451 392.5h7M454.5 389v7M451 393.5h7M454.5 390v7M452 389.5h7M455.5 386v7M452 390.5h7M455.5 387v7M452 391.5h7M455.5 388v7M452 392.5h7M455.5 389v7M453 390.5h7M456.5 387v7M453 391.5h7M456.5 388v7M453 392.5h7M456.5 389v7M454 390.5h7M457.5 387v7M454 391.5h7M457.5 388v7M455 388.5h7M458.5 385v7M455 389.5h7M458.5 386v7M455 390.5h7M458.5 387v7M455 391.5h7M458.5 388v7M456 389.5h7M459.5 386v7M456 390.5h7M459.5 387v7M457 385.5h7M460.5 382v7M457 386.5h7M460.5 383v7M457 387.5h7M460.5 384v7M457 391.5h7M460.5 388v7M458 387.5h7M461.5 384v7M458 389.5h7M461.5 386v7M458 390.5h7M461.5 387v7M458 391.5h7M461.5 388v7M459 388.5h7M462.5 385v7M459 390.5h7M462.5 387v7M460 389.5h7M463.5 386v7M460 390.5h7M463.5 387v7M461 389.5h7M464.5 386v7M461 390.5h7M464.5 387v7M461 391.5h7M464.5 388v7M462 387.5h7M465.5 384v7M462 390.5h7M465.5 387v7M462 391.5h7M465.5 388v7M463 386.5h7M466.5 383v7M463 391.5h7M466.5 388v7M464 389.5h7M467.5 386v7M464 390.5h7M467.5 387v7M465 387.5h7M468.5 384v7M465 390.5h7M468.5 387v7M465 391.5h7M468.5 388v7M465 394.5h7M468.5 391v7M466 385.5h7M469.5 382v7M466 388.5h7M469.5 385v7M467 387.5h7M470.5 384v7M467 389.5h7M470.5 386v7M468 387.5h7M471.5 384v7M468 388.5h7M471.5 385v7M468 389.5h7M471.5 386v7M468 392.5h7M471.5 389v7M469 388.5h7M472.5 385v7M469 389.5h7M472.5 386v7M469 392.5h7M472.5 389v7M470 386.5h7M473.5 383v7M470 388.5h7M473.5 385v7M470 391.5h7M473.5 388v7M471 386.5h7M474.5 383v7M471 387.5h7M474.5 384v7M471 388.5h7M474.5 385v7M472 386.5h7M475.5 383v7M472 388.5h7M475.5 385v7M472 391.5h7M475.5 388v7M473 389.5h7M476.5 386v7M474 386.5h7M477.5 383v7M474 388.5h7M477.5 385v7M474 389.5h7M477.5 386v7M474 391.5h7M477.5 388v7M475 387.5h7M478.5 384v7M475 388.5h7M478.5 385v7M475 389.5h7M478.5 386v7M476 385.5h7M479.5 382v7M476 386.5h7M479.5 383v7M476 387.5h7M479.5 384v7M477 382.5h7M480.5 379v7M477 385.5h7M480.5 382v7M477 389.5h7M480.5 386v7M478 383.5h7M481.5 380v7M478 384.5h7M481.5 381v7M478 386.5h7M481.5 383v7M478 387.5h7M481.5 384v7M479 385.5h7M482.5 382v7M479 387.5h7M482.5 384v7M479 388.5h7M482.5 385v7M480 383.5h7M483.5 380v7M480 384.5h7M483.5 381v7M480 385.5h7M483.5 382v7M481 384.5h7M484.5 381v7M481 386.5h7M484.5 383v7M481 387.5h7M484.5 384v7M481 390.5h7M484.5 387v7M482 384.5h7M485.5 381v7M482 385.5h7M485.5 382v7M482 388.5h7M485.5 385v7M483 383.5h7M486.5 380v7M483 384.5h7M486.5 381v7M483 386.5h7M486.5 383v7M483 388.5h7M486.5 385v7M484 383.5h7M487.5 380v7M484 385.5h7M487.5 382v7M484 386.5h7M487.5 383v7M485 385.5h7M488.5 382v7M485 387.5h7M488.5 384v7M485 388.5h7M488.5 385v7M486 382.5h7M489.5 379v7M486 383.5h7M489.5 380v7M486 387.5h7M489.5 384v7M487 378.5h7M490.5 375v7M487 383.5h7M490.5 380v7M487 385.5h7M490.5 382v7M487 386.5h7M490.5 383v7M488 380.5h7M491.5 377v7M488 382.5h7M491.5 379v7M488 385.5h7M491.5 382v7M488 388.5h7M491.5 385v7M489 383.5h7M492.5 380v7M489 384.5h7M492.5 381v7M489 386.5h7M492.5 383v7M490 383.5h7M493.5 380v7M490 384.5h7M493.5 381v7M490 385.5h7M493.5 382v7M490 387.5h7M493.5 384v7M491 384.5h7M494.5 381v7M491 385.5h7M494.5 382v7M492 384.5h7M495.5 381v7M492 386.5h7M495.5 383v7M493 382.5h7M496.5 379v7M493 383.5h7M496.5 380v7M493 385.5h7M496.5 382v7M494 382.5h7M497.5 379v7M494 383.5h7M497.5 380v7M494 384.5h7M497.5 381v7M494 386.5h7M497.5 383v7M495 382.5h7M498.5 379v7M495 386.5h7M498.5 383v7M496 380.5h7M499.5 377v7M496 384.5h7M499.5 381v7M497 383.5h7M500.5 380v7M497 384.5h7M500.5 381v7M498 380.5h7M501.5 377v7M498 384.5h7M501.5 381v7M498 385.5h7M501.5 382v7M498 386.5h7M501.5 383v7M499 381.5h7M502.5 378v7M499 383.5h7M502.5 380v7M500 381.5h7M503.5 378v7M500 382.5h7M503.5 379v7M500 384.5h7M503.5 381v7M501 382.5h7M504.5 379v7M501 383.5h7M504.5 380v7M501 384.5h7M504.5 381v7M501 388.5h7M504.5 385v7M502 380.5h7M505.5 377v7M502 381.5h7M505.5 378v7M502 382.5h7M505.5 379v7M502 385.5h7M505.5 382v7M503 380.5h7M506.5 377v7M503 383.5h7M506.5 380v7M504 381.5h7M507.5 378v7M504 383.5h7M507.5 380v7M504 384.5h7M507.5 381v7M505 381.5h7M508.5 378v7M505 382.5h7M508.5 379v7M505 383.5h7M508.5 380v7M506 378.5h7M509.5 375v7M506 383.5h7M509.5 380v7M506 384.5h7M509.5 381v7M506 385.5h7M509.5 382v7M507 381.5h7M510.5 378v7M507 382.5h7M510.5 379v7M507 383.5h7M510.5 380v7M507 384.5h7M510.5 381v7M508 379.5h7M511.5 376v7M508 381.5h7M511.5 378v7M508 382.5h7M511.5 379v7M509 379.5h7M512.5 376v7M509 381.5h7M512.5 378v7M509 382.5h7M512.5 379v7M510 380.5h7M513.5 377v7M510 381.5h7M513.5 378v7M510 383.5h7M513.5 380v7M511 380.5h7M514.5 377v7M511 382.5h7M514.5 379v7M511 385.5h7M514.5 382v7M512 376.5h7M515.5 373v7M512 380.5h7M515.5 377v7M512 383.5h7M515.5 380v7M513 379.5h7M516.5 376v7M513 382.5h7M516.5 379v7M513 383.5h7M516.5 380v7M514 378.5h7M517.5 375v7M514 380.5h7M517.5 377v7M514 381.5h7M517.5 378v7M514 386.5h7M517.5 383v7M515 380.5h7M518.5 377v7M515 381.5h7M518.5 378v7M515 382.5h7M518.5 379v7M516 379.5h7M519.5 376v7M516 380.5h7M519.5 377v7M517 378.5h7M520.5 375v7M517 380.5h7M520.5 377v7M517 381.5h7M520.5 378v7M517 384.5h7M520.5 381v7M518 379.5h7M521.5 376v7M518 382.5h7M521.5 379v7M518 384.5h7M521.5 381v7M519 378.5h7M522.5 375v7M519 379.5h7M522.5 376v7M519 380.5h7M522.5 377v7M519 383.5h7M522.5 380v7M520 379.5h7M523.5 376v7M520 381.5h7M523.5 378v7M520 382.5h7M523.5 379v7M521 381.5h7M524.5 378v7M521 382.5h7M524.5 379v7M521 383.5h7M524.5 380v7M522 378.5h7M525.5 375v7M522 379.5h7M525.5 376v7M522 380.5h7M525.5 377v7M523 378.5h7M526.5 375v7M523 379.5h7M526.5 376v7M523 381.5h7M526.5 378v7M524 374.5h7M527.5 371v7M524 379.5h7M527.5 376v7M524 380.5h7M527.5 377v7M525 376.5h7M528.5 373v7M525 379.5h7M528.5 376v7M525 380.5h7M528.5 377v7M525 382.5h7M528.5 379v7M526 378.5h7M529.5 375v7M526 379.5h7M529.5 376v7M526 380.5h7M529.5 377v7M526 381.5h7M529.5 378v7M527 376.5h7M530.5 373v7M527 377.5h7M530.5 374v7M527 379.5h7M530.5 376v7M527 381.5h7M530.5 378v7M528 377.5h7M531.5 374v7M528 379.5h7M531.5 376v7M529 376.5h7M532.5 373v7M529 378.5h7M532.5 375v7M529 379.5h7M532.5 376v7M529 380.5h7M532.5 377v7M530 376.5h7M533.5 373v7M530 378.5h7M533.5 375v7M530 379.5h7M533.5 376v7M530 381.5h7M533.5 378v7M531 376.5h7M534.5 373v7M531 378.5h7M534.5 375v7M531 379.5h7M534.5 376v7M531 382.5h7M534.5 379v7M532 376.5h7M535.5 373v7M532 377.5h7M535.5 374v7M532 380.5h7M535.5 377v7M533 377.5h7M536.5 374v7M533 378.5h7M536.5 375v7M533 379.5h7M536.5 376v7M533 380.5h7M536.5 377v7M534 376.5h7M537.5 373v7M534 377.5h7M537.5 374v7M534 379.5h7M537.5 376v7M535 377.5h7M538.5 374v7M535 378.5h7M538.5 375v7M536 376.5h7M539.5 373v7M536 378.5h7M539.5 375v7M536 381.5h7M539.5 378v7M537 375.5h7M540.5 372v7M537 376.5h7M540.5 373v7M537 378.5h7M540.5 375v7M538 376.5h7M541.5 373v7M538 377.5h7M541.5 374v7M538 378.5h7M541.5 375v7M538 379.5h7M541.5 376v7M539 375.5h7M542.5 372v7M539 377.5h7M542.5 374v7M539 378.5h7M542.5 375v7M539 380.5h7M542.5 377v7M540 376.5h7M543.5 373v7M540 378.5h7M543.5 375v7M541 375.5h7M544.5 372v7M541 376.5h7M544.5 373v7M541 379.5h7M544.5 376v7M542 377.5h7M545.5 374v7M542 378.5h7M545.5 375v7M543 375.5h7M546.5 372v7M543 378.5h7M546.5 375v7M543 380.5h7M546.5 377v7M544 373.5h7M547.5 370v7M544 376.5h7M547.5 373v7M545 373.5h7M548.5 370v7M545 377.5h7M548.5 374v7M545 378.5h7M548.5 375v7M546 374.5h7M549.5 371v7M546 377.5h7M549.5 374v7M546 378.5h7M549.5 375v7M546 379.5h7M549.5 376v7M547 373.5h7M550.5 370v7M547 375.5h7M550.5 372v7M547 378.5h7M550.5 375v7M548 373.5h7M551.5 370v7M548 374.5h7M551.5 371v7M548 375.5h7M551.5 372v7M548 379.5h7M551.5 376v7M549 374.5h7M552.5 371v7M549 375.5h7M552.5 372v7M549 376.5h7M552.5 373v7M549 378.5h7M552.5 375v7M550 373.5h7M553.5 370v7M550 377.5h7M553.5 374v7M551 374.5h7M554.5 371v7M551 375.5h7M554.5 372v7M551 378.5h7M554.5 375v7M552 372.5h7M555.5 369v7M552 375.5h7M555.5 372v7M552 376.5h7M555.5 373v7M552 378.5h7M555.5 375v7M553 373.5h7M556.5 370v7M553 375.5h7M556.5 372v7M553 376.5h7M556.5 373v7M554 374.5h7M557.5 371v7M554 375.5h7M557.5 372v7M554 379.5h7M557.5 376v7M555 374.5h7M558.5 371v7M555 376.5h7M558.5 373v7M556 371.5h7M559.5 368v7M556 374.5h7M559.5 371v7M556 375.5h7M559.5 372v7M556 376.5h7M559.5 373v7M557 374.5h7M560.5 371v7M557 375.5h7M560.5 372v7M571 57.5h7M574.5 54v7" stroke="#9400d3" stroke-width="1" fill="none" shape-rendering="crispEdges"/>
<path d="M143.5 432v-5M143.5 45v5M195.5 432v-5M195.5 45v5M247.5 432v-5M247.5 45v5M299.5 432v-5M299.5 45v5M352.5 432v-5M352.5 45v5M404.5 432v-5M404.5 45v5M456.5 432v-5M456.5 45v5M508.5 432v-5M508.5 45v5M560.5 432v-5M560.5 45v5M91 371.5h5M613 371.5h-5M91 312.5h5M613 312.5h-5M91 252.5h5M613 252.5h-5M91 192.5h5M613 192.5h-5M91 133.5h5M613 133.5h-5M91 73.5h5M613 73.5h-5" stroke="#000" stroke-width="1" fill="none" shape-rendering="crispEdges"/>
<rect x="91.5" y="45.5" width="521" height="386" fill="none" stroke="#000" stroke-width="1" shape-rendering="crispEdges"/>
</svg>
</body></html>
